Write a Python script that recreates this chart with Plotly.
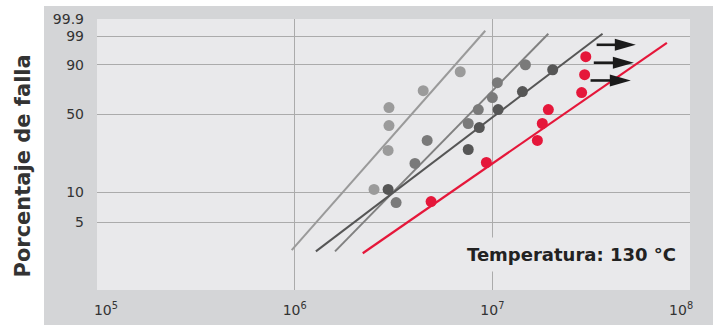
import numpy as np
import plotly.graph_objects as go

# ---------------- data ----------------
light_x = [2.52e6, 2.97e6, 3.0e6, 3.0e6, 4.47e6, 6.88e6]
light_pct = [10.7, 25.2, 41.1, 55.9, 70.8, 85.7]

mid_x = [3.26e6, 4.06e6, 4.68e6, 7.55e6, 8.49e6, 1.0e7, 1.06e7, 1.47e7]
mid_pct = [7.9, 19.1, 30.9, 42.7, 54.1, 64.7, 77.5, 90.0]

dark_x = [2.97e6, 7.55e6, 8.59e6, 1.07e7, 1.42e7, 2.02e7]
dark_pct = [10.7, 25.7, 39.6, 54.1, 70.0, 87.0]

red_x = [4.90e6, 9.33e6, 1.69e7, 1.79e7, 1.92e7, 2.83e7, 2.93e7, 2.97e7]
red_pct = [8.1, 19.5, 30.9, 42.7, 54.1, 69.1, 83.7, 93.9]

# fitted Weibull lines (end points)
light_fit_x = [9.66e5, 9.21e6]
light_fit_pct = [2.57, 99.47]
mid_fit_x = [1.60e6, 1.92e7]
mid_fit_pct = [2.5, 99.23]
dark_fit_x = [1.28e6, 3.61e7]
dark_fit_pct = [2.5, 99.23]
red_fit_x = [2.21e6, 7.64e7]
red_fit_pct = [2.39, 98.0]

# run-out (suspension) arrows
arrow_from_x = [3.37e7, 3.26e7, 3.14e7]
arrow_to_x = [5.32e7, 5.20e7, 5.02e7]
arrow_pct = [97.6, 91.1, 79.3]

y_tick_pct = [5, 10, 50, 90, 99, 99.9]
y_tick_text = ["5", "10", "50", "90", "99", "99.9"]
y_grid_pct = [5, 10, 50, 90, 99]
x_tick_vals = [1e5, 1e6, 1e7, 1e8]
x_tick_text = ["\u00a0\u00a0\u00a0\u00a010<sup>5</sup>", "10<sup>6</sup>", "10<sup>7</sup>",
               "10<sup>8</sup>\u00a0\u00a0\u00a0\u00a0"]
x_grid_vals = [1e6, 1e7]

y_title = "Porcentaje de falla"
note_text = "Temperatura: 130 °C"


def wb(p):
    p = np.asarray(p, dtype=float) / 100.0
    return np.log(-np.log(1.0 - p))


# ---------------- styling ----------------
W, H = 718, 327
ML, MR, MT, MB = 97, 28, 19, 37
PW, PH = W - ML - MR, H - MT - MB
FONT = "DejaVu Sans"
C_LIGHT, C_MID, C_DARK, C_RED = "#9b9b9b", "#7a7a7a", "#565656", "#e5173a"
LINE_LIGHT, LINE_MID = "#9a9a9a", "#818181"
GRID = "#ababab"
X_RANGE = [5, 8]
Y_RANGE = [-4.61, 1.94]

fig = go.Figure()

for fx, fp, col, w in [(light_fit_x, light_fit_pct, LINE_LIGHT, 2),
                       (mid_fit_x, mid_fit_pct, LINE_MID, 2),
                       (dark_fit_x, dark_fit_pct, C_DARK, 2),
                       (red_fit_x, red_fit_pct, C_RED, 2.2)]:
    fig.add_trace(go.Scatter(x=fx, y=wb(fp), mode="lines",
                             line=dict(color=col, width=w),
                             showlegend=False, hoverinfo="skip"))

for px, pp, col in [(light_x, light_pct, C_LIGHT),
                    (mid_x, mid_pct, C_MID),
                    (dark_x, dark_pct, C_DARK),
                    (red_x, red_pct, C_RED)]:
    fig.add_trace(go.Scatter(x=px, y=wb(pp), mode="markers",
                             marker=dict(color=col, size=11, line=dict(width=0)),
                             showlegend=False))

shapes = [
    dict(type="rect", xref="paper", yref="paper",
         x0=(44 - ML) / PW, x1=(713 - ML) / PW,
         y0=-(325 - (MT + PH)) / PH, y1=1 + (MT - 6) / PH,
         fillcolor="#d4d5d7", line=dict(width=0), layer="below"),
    dict(type="rect", xref="paper", yref="paper", x0=0, x1=1, y0=0, y1=1,
         fillcolor="#e9e9eb", line=dict(width=0), layer="below"),
]

head_len, head_half = 21, 6
px_per_decade = PW / (X_RANGE[1] - X_RANGE[0])
for x0, x1, p in zip(arrow_from_x, arrow_to_x, arrow_pct):
    yv = float(wb([p])[0])
    shaft_end = x1 / 10 ** ((head_len - 1) / px_per_decade)
    shapes.append(dict(type="line", xref="x", yref="y", x0=x0, x1=shaft_end,
                       y0=yv, y1=yv, line=dict(color="#1b1b1b", width=2.6)))
    shapes.append(dict(type="path", xref="x", yref="y",
                       xsizemode="pixel", ysizemode="pixel",
                       xanchor=x1, yanchor=yv,
                       path=f"M 0 0 L {-head_len} {head_half} L {-head_len} {-head_half} Z",
                       fillcolor="#1b1b1b", line=dict(width=0)))

fig.update_layout(
    width=W, height=H,
    margin=dict(l=ML, r=MR, t=MT, b=MB, pad=0, autoexpand=False),
    paper_bgcolor="white",
    plot_bgcolor="rgba(0,0,0,0)",
    font=dict(family=FONT, color="#333333", size=14),
    shapes=shapes,
    showlegend=False,
    # grid-only axes
    xaxis=dict(type="log", range=X_RANGE, tickvals=x_grid_vals, showticklabels=False,
               showgrid=True, gridcolor=GRID, gridwidth=1.3, zeroline=False,
               showline=False, ticks="", automargin=False),
    yaxis=dict(range=Y_RANGE, tickvals=list(wb(y_grid_pct)), showticklabels=False,
               showgrid=True, gridcolor=GRID, gridwidth=1.3, zeroline=False,
               showline=False, ticks="", automargin=False),
    # label-only axes
    xaxis2=dict(type="log", range=X_RANGE, overlaying="x", anchor="y", side="bottom",
                tickvals=x_tick_vals, ticktext=x_tick_text, showgrid=False,
                zeroline=False, showline=False, ticks="", ticklabelstandoff=10,
                automargin=False,
                tickfont=dict(family=FONT, size=14, color="#333333")),
    yaxis2=dict(range=Y_RANGE, overlaying="y", anchor="x", side="left",
                tickvals=list(wb(y_tick_pct)), ticktext=y_tick_text, showgrid=False,
                zeroline=False, showline=False, ticks="", ticklabelstandoff=12,
                automargin=False,
                tickfont=dict(family=FONT, size=14, color="#333333")),
    annotations=[
        dict(text=y_title, xref="paper", yref="paper",
             x=(22 - ML) / PW, y=(MT + PH - 166.5) / PH,
             xanchor="center", yanchor="middle", textangle=-90, showarrow=False,
             font=dict(family=FONT, size=21, color="#333333", weight="bold")),
        dict(text=note_text, xref="paper", yref="paper",
             x=(571 - ML) / PW, y=(MT + PH - 254.5) / PH,
             xanchor="center", yanchor="middle", showarrow=False,
             bgcolor="#e9e9eb", borderpad=6,
             font=dict(family=FONT, size=18, color="#222222", weight="bold")),
    ],
)

# invisible trace so that the label axes get their own subplot
fig.add_trace(go.Scatter(x=[], y=[], xaxis="x2", yaxis="y2", showlegend=False,
                         hoverinfo="skip"))

fig.write_html("out.html",
               config={"displayModeBar": False},
               post_script="document.body.style.margin='0';document.body.style.overflow='hidden';")
